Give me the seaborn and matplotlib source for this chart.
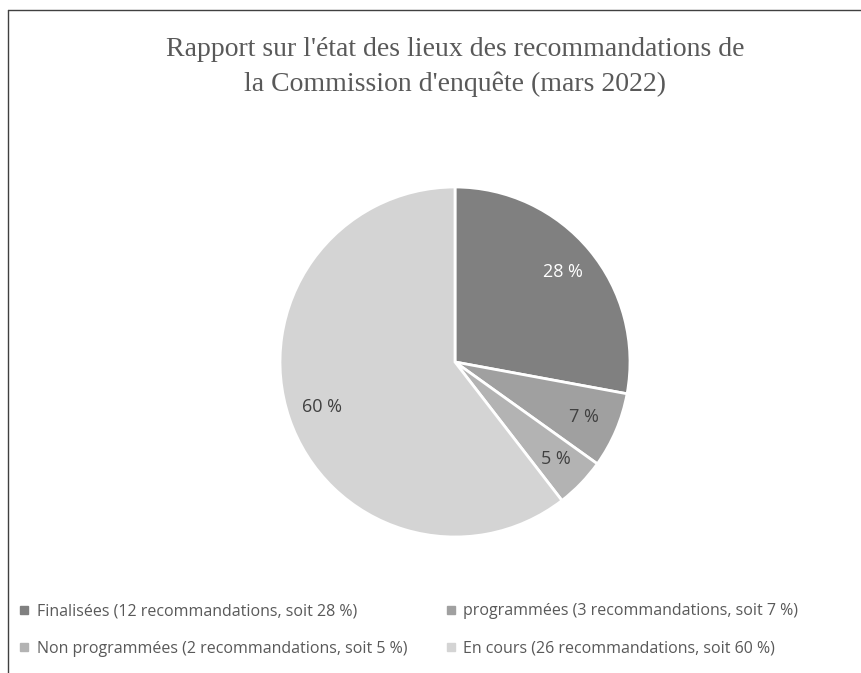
import matplotlib
matplotlib.use("Agg")
import matplotlib.pyplot as plt
from matplotlib.lines import Line2D
import seaborn as sns

# Data
categories = ["Finalisées", "programmées", "Non programmées", "En cours"]
counts = [12, 3, 2, 26]
legend_labels = [
    "Finalisées (12 recommandations, soit 28 %)",
    "programmées (3 recommandations, soit 7 %)",
    "Non programmées (2 recommandations, soit 5 %)",
    "En cours (26 recommandations, soit 60 %)",
]
colors = ["#808080", "#a0a0a0", "#b3b3b3", "#d4d4d4"]
label_colors = ["white", "#404040", "#404040", "#404040"]

sns.set_theme(style="white")
plt.rcParams['font.family'] = ['Open Sans', 'DejaVu Sans']

fig = plt.figure(figsize=(8.62, 6.73), dpi=100)

# pie axes: square of 350 px centred at (455, 362)
W, H = 862, 673
cx, cy, r = 455, 362, 175
ax = fig.add_axes([(cx - r) / W, (H - cy - r) / H, 2 * r / W, 2 * r / H])

wedges, texts, autotexts = ax.pie(
    counts, colors=colors, startangle=90, counterclock=False,
    autopct=lambda p: f"{p:.0f} %", pctdistance=0.8,
    wedgeprops=dict(edgecolor="white", linewidth=2),
    textprops=dict(fontsize=13),
)
for t, c in zip(autotexts, label_colors):
    t.set_color(c)
ax.set_xlim(-1, 1)
ax.set_ylim(-1, 1)
ax.set_aspect("equal")

# Title
fig.text(cx / W, 1 - 67 / H,
         "Rapport sur l'état des lieux des recommandations de\nla Commission d'enquête (mars 2022)",
         ha="center", va="center", fontsize=20, color="#595959",
         family=["Liberation Serif", "DejaVu Serif"], linespacing=1.45)

# Legend (row-major order for ncol=2)
order = [0, 2, 1, 3]
handles = [Line2D([0], [0], marker="s", linestyle="none", markersize=6,
                  markerfacecolor=colors[i], markeredgecolor=colors[i]) for i in order]
fig.legend(handles, [legend_labels[i] for i in order], loc="upper left",
           bbox_to_anchor=(5 / W, 1 - 589 / H),
           ncol=2, frameon=False, fontsize=11.5, labelcolor="#595959",
           handlelength=0.6, handletextpad=0.5, columnspacing=2.4, labelspacing=1.35)

# Partial frame (top and left)
fig.add_artist(Line2D([8 / W, 1], [1 - 10 / H, 1 - 10 / H], transform=fig.transFigure, color="#404040", linewidth=1))
fig.add_artist(Line2D([8 / W, 8 / W], [0, 1 - 10 / H], transform=fig.transFigure, color="#404040", linewidth=1))

fig.savefig("out.png", dpi=100)
